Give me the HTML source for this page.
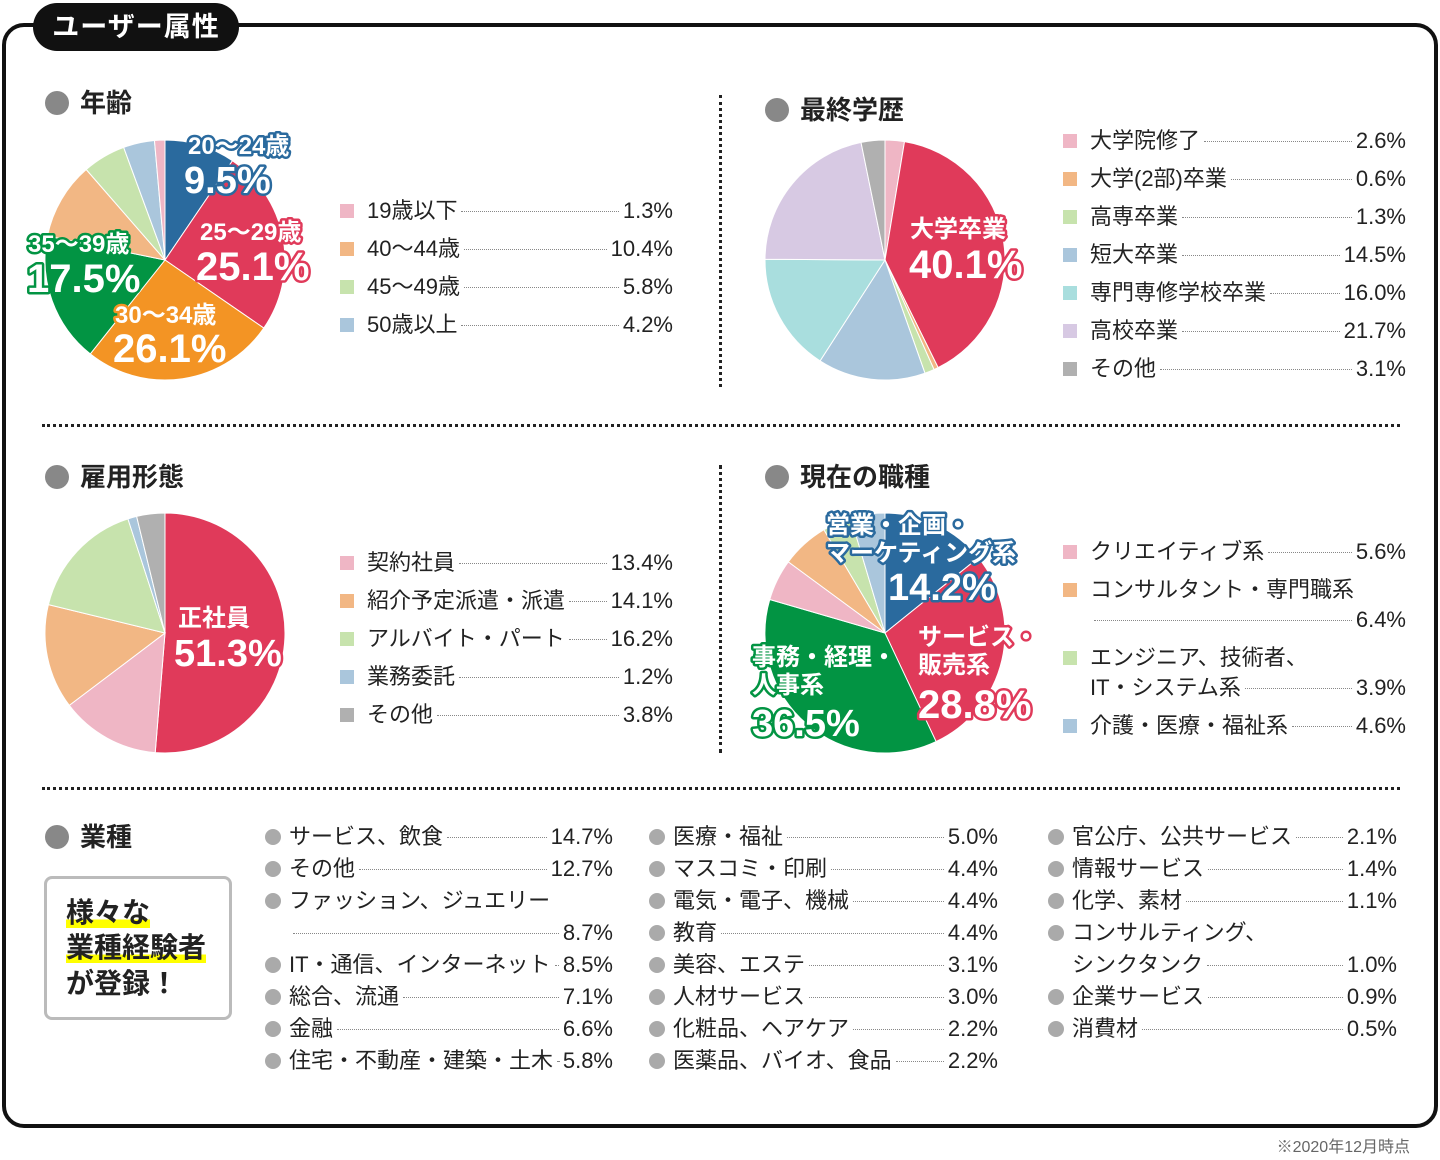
<!DOCTYPE html>
<html><head><meta charset="utf-8"><style>
*{margin:0;padding:0;box-sizing:border-box}
body{width:1440px;height:1160px;background:#fff;position:relative;font-family:"Liberation Sans","Noto Sans CJK JP",sans-serif;color:#222;overflow:hidden}
.frame{position:absolute;left:2px;top:23px;width:1436px;height:1105px;border:4px solid #111;border-radius:22px}
.pill{position:absolute;left:33px;top:3px;width:206px;height:48px;background:#111;border-radius:24px;color:#fff;font-weight:bold;font-size:27px;line-height:48px;text-align:center;letter-spacing:1px}
.h{position:absolute;font-weight:bold;font-size:26px;line-height:30px;display:flex;align-items:center}
.h:before{content:"";width:24px;height:24px;border-radius:50%;background:#888;margin-right:11px}
.vd{position:absolute;border-left:3px dotted #222;width:0}
.hd{position:absolute;border-top:3px dotted #222;height:0}
.r{position:absolute;display:flex;align-items:center;font-size:22px;line-height:28px;height:28px;white-space:nowrap}
.r .sq{width:14px;height:14px;margin-right:13px;flex:none}
.r .dt{width:16px;height:16px;border-radius:50%;background:#aaa;margin-right:8px;flex:none}
.r .ld{flex:1;border-bottom:1px dotted #888;margin:0 4px;align-self:center;height:0}
.r .v{flex:none}
svg{position:absolute;left:0;top:0}
.box{position:absolute;left:44px;top:876px;width:188px;height:144px;border:3px solid #bbb;border-radius:8px}
.bt{position:absolute;left:66px;font-weight:bold;font-size:28px;line-height:34px}
.hl{background:linear-gradient(transparent 72%,#ff0 72%)}
.note{position:absolute;right:30px;top:1133px;font-size:16px;color:#666}
</style></head><body>
<div class="frame"></div>
<div class="pill">ユーザー属性</div>
<div class="h" style="left:45px;top:88px">年齢</div>
<div class="h" style="left:765px;top:95px">最終学歴</div>
<div class="h" style="left:45px;top:462px">雇用形態</div>
<div class="h" style="left:765px;top:462px">現在の職種</div>
<div class="h" style="left:45px;top:822px">業種</div>
<div class="vd" style="left:719px;top:95px;height:292px"></div>
<div class="vd" style="left:719px;top:465px;height:288px"></div>
<div class="hd" style="left:42px;top:424px;width:1358px"></div>
<div class="hd" style="left:42px;top:787px;width:1358px"></div>
<svg id="s" width="1440" height="1160"></svg>

<div id="legs"></div>
<div class="box"></div>
<div class="bt" style="top:896px"><span class="hl">様々な</span></div>
<div class="bt" style="top:931px"><span class="hl">業種経験者</span></div>
<div class="bt" style="top:967px">が登録！</div>
<div class="note">※2020年12月時点</div>
<script>
const C={b:"#2a6a9e",r:"#e03a5a",o:"#f39424",g:"#029443",lo:"#f2b784",lg:"#c7e3ad",lb:"#aac6dc",p:"#efb6c5",c:"#a9dede",lv:"#d7c9e3",gy:"#b0b0b0"};
const s=document.getElementById('s');let h='';
function pie(cx,cy,R,sl){let a=0;sl.forEach(([v,c])=>{const a0=a/100*2*Math.PI,a1=(a+v)/100*2*Math.PI;a+=v;
const x0=cx+R*Math.sin(a0),y0=cy-R*Math.cos(a0),x1=cx+R*Math.sin(a1),y1=cy-R*Math.cos(a1);
h+=`<path d="M${cx},${cy}L${x0.toFixed(2)},${y0.toFixed(2)}A${R},${R} 0 ${v>50?1:0} 1 ${x1.toFixed(2)},${y1.toFixed(2)}Z" fill="${C[c]}" stroke="#fff" stroke-width="1"/>`});}
pie(165,260,120,[[9.5,'b'],[25.1,'r'],[26.1,'o'],[17.5,'g'],[10.4,'lo'],[5.8,'lg'],[4.2,'lb'],[1.4,'p']]);
pie(885,260,120,[[2.6,'p'],[40.1,'r'],[0.6,'lo'],[1.3,'lg'],[14.5,'lb'],[16.0,'c'],[21.7,'lv'],[3.2,'gy']]);
pie(165,633,120,[[51.3,'r'],[13.4,'p'],[14.1,'lo'],[16.2,'lg'],[1.2,'lb'],[3.8,'gy']]);
pie(885,633,120,[[14.2,'b'],[28.8,'r'],[36.5,'g'],[5.6,'p'],[6.4,'lo'],[3.9,'lg'],[4.6,'lb']]);
function t(x,y,sz,col,txt){h+=`<text x="${x}" y="${y}" font-size="${sz}" font-weight="bold" fill="#fff" stroke="${col}" stroke-width="5" stroke-linejoin="round" paint-order="stroke" font-family="Liberation Sans,Noto Sans CJK JP,sans-serif">${txt}</text>`;}
t(188,154,24,C.b,'20〜24歳');t(184,193,38,C.b,'9.5%');
t(200,240,24,C.r,'25〜29歳');t(196,280,40,C.r,'25.1%');
t(28,252,24,C.g,'35〜39歳');t(27,292,40,C.g,'17.5%');
t(115,323,24,C.o,'30〜34歳');t(113,362,40,C.o,'26.1%');
t(910,237,24,C.r,'大学卒業');t(909,278,40,C.r,'40.1%');
t(178,626,24,C.r,'正社員');t(174,666,38,C.r,'51.3%');
t(826,533,24,C.b,'営業・企画・');t(826,561,24,C.b,'マーケティング系');t(888,600,38,C.b,'14.2%');
t(918,645,24,C.r,'サービス・');t(918,673,24,C.r,'販売系');t(918,718,40,C.r,'28.8%');
t(752,665,24,C.g,'事務・経理・');t(752,693,24,C.g,'人事系');t(752,736,38,C.g,'36.5%');
s.innerHTML=h;
let L='';
function row(x,y,r,col,lab,val,dot){const m=dot?'<span class="dt"></span>':(col?`<span class="sq" style="background:${C[col]}"></span>`:'');
L+=`<div class="r" style="left:${x}px;top:${y-14}px;width:${r-x}px">${m}<span>${lab}</span>${val!==null?'<span class="ld"></span><span class="v">'+val+'</span>':''}</div>`;}
[['p','19歳以下','1.3%'],['lo','40〜44歳','10.4%'],['lg','45〜49歳','5.8%'],['lb','50歳以上','4.2%']].forEach((d,i)=>row(340,211+38*i,673,d[0],d[1],d[2]));
[['p','大学院修了','2.6%'],['lo','大学(2部)卒業','0.6%'],['lg','高専卒業','1.3%'],['lb','短大卒業','14.5%'],['c','専門専修学校卒業','16.0%'],['lv','高校卒業','21.7%'],['gy','その他','3.1%']].forEach((d,i)=>row(1063,141+38*i,1406,d[0],d[1],d[2]));
[['p','契約社員','13.4%'],['lo','紹介予定派遣・派遣','14.1%'],['lg','アルバイト・パート','16.2%'],['lb','業務委託','1.2%'],['gy','その他','3.8%']].forEach((d,i)=>row(340,563+38*i,673,d[0],d[1],d[2]));
row(1063,552,1406,'p','クリエイティブ系','5.6%');
row(1063,590,1406,'lo','コンサルタント・専門職系',null);
row(1090,620,1406,null,'','6.4%');
row(1063,658,1406,'lg','エンジニア、技術者、',null);
row(1090,688,1406,null,'IT・システム系','3.9%');
row(1063,726,1406,'lb','介護・医療・福祉系','4.6%');
const c1=[['サービス、飲食','14.7%',1],['その他','12.7%',1],['ファッション、ジュエリー',null,1],['','8.7%',0],['IT・通信、インターネット','8.5%',1],['総合、流通','7.1%',1],['金融','6.6%',1],['住宅・不動産・建築・土木','5.8%',1]];
c1.forEach((d,i)=>row(d[2]?265:289,837+32*i,613,null,d[0],d[1],d[2]));
const c2=[['医療・福祉','5.0%'],['マスコミ・印刷','4.4%'],['電気・電子、機械','4.4%'],['教育','4.4%'],['美容、エステ','3.1%'],['人材サービス','3.0%'],['化粧品、ヘアケア','2.2%'],['医薬品、バイオ、食品','2.2%']];
c2.forEach((d,i)=>row(649,837+32*i,998,null,d[0],d[1],1));
const c3=[['官公庁、公共サービス','2.1%',1],['情報サービス','1.4%',1],['化学、素材','1.1%',1],['コンサルティング、',null,1],['シンクタンク','1.0%',0],['企業サービス','0.9%',1],['消費材','0.5%',1]];
c3.forEach((d,i)=>row(d[2]?1048:1072,837+32*i,1397,null,d[0],d[1],d[2]));
document.getElementById('legs').innerHTML=L;
</script>
</body></html>
